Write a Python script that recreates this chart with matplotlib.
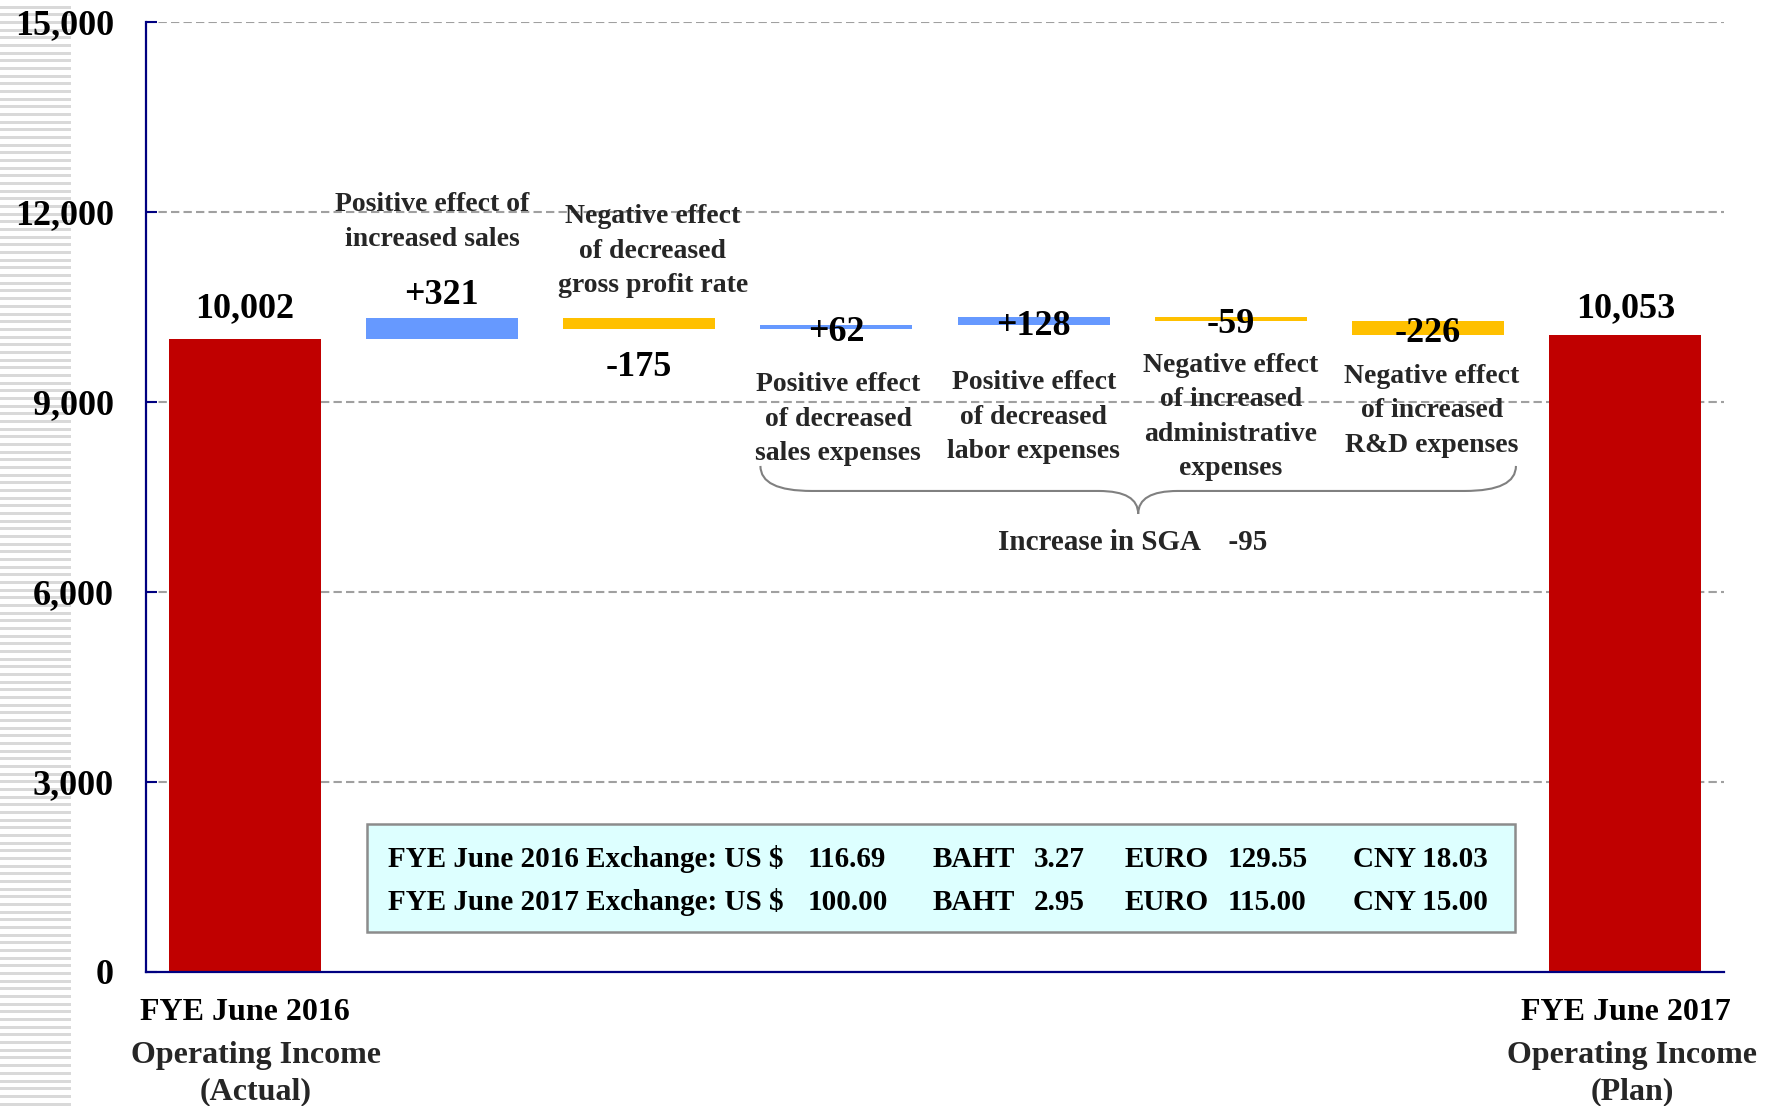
import numpy as np
import matplotlib
matplotlib.use("Agg")
import matplotlib.pyplot as plt
from matplotlib.patches import Rectangle, PathPatch
from matplotlib.path import Path
from matplotlib.ticker import FuncFormatter

plt.rcParams['font.family'] = ['Liberation Serif', 'DejaVu Serif']
plt.rcParams['font.weight'] = 'bold'

# operating income bridge, FYE June 2016 actual -> FYE June 2017 plan
start_title = "FYE June 2016"
start_sub = "Operating Income\n(Actual)"
end_title = "FYE June 2017"
end_sub = "Operating Income\n(Plan)"
start_value = 10002
change_labels = [
    "Positive effect of\nincreased sales",
    "Negative effect\nof decreased\ngross profit rate",
    "Positive effect\nof decreased\nsales expenses",
    "Positive effect\nof decreased\nlabor expenses",
    "Negative effect\nof increased\nadministrative\nexpenses",
    "Negative effect\nof increased\nR&D expenses",
]
changes = [321, -175, 62, 128, -59, -226]
sga_items = [2, 3, 4, 5]   # the four SGA effects

# exchange rates shown in the box
rate_years = ["FYE June 2016", "FYE June 2017"]
usd_rates = ["116.69", "100.00"]
baht_rates = ["3.27", "2.95"]
euro_rates = ["129.55", "115.00"]
cny_rates = ["18.03", "15.00"]

RED = '#C00000'
BLUE = '#6699FF'
YELLOW = '#FFC000'
NAVY = '#000080'
DARK = '#262626'

levels = start_value + np.cumsum([0] + changes)
end_value = levels[-1]
n = len(changes) + 2
x = np.arange(n)

fig = plt.figure(figsize=(17.71, 11.06), dpi=100)
ax = fig.add_axes([0.0824, 0.1212, 0.8911, 0.8589])

# striped band down the left edge
for yp in np.arange(7.2, 1106, 7.67):
    fig.add_artist(Rectangle((0, 1 - (yp + 1.5) / 1106), 71 / 1771, 3 / 1106,
                             transform=fig.transFigure, color='#d9d9d9',
                             lw=0, zorder=-1))

ax.set_xlim(-0.5, n - 0.5)
ax.set_ylim(0, 15000)
ax.set_yticks(np.arange(0, 15001, 3000))
ax.yaxis.set_major_formatter(FuncFormatter(lambda v, p: f"{int(v):,}"))
for yv in np.arange(3000, 15001, 3000):
    ax.axhline(yv, color='#a0a0a0', lw=1.5, ls=(0, (4, 2)), zorder=0)

width = 0.77
ax.bar(0, start_value, width=width, color=RED, zorder=2)
ax.bar(n - 1, end_value, width=width, color=RED, zorder=2)
for i, c in enumerate(changes):
    lo = min(levels[i], levels[i + 1])
    ax.bar(i + 1, abs(c), bottom=lo, width=width,
           color=BLUE if c > 0 else YELLOW, zorder=2)

# value labels
for xi, v, off in [(0, start_value, 21.3), (n - 1, end_value, 19.3)]:
    ax.annotate(f"{v:,}", (xi, v), xytext=(0, off), textcoords='offset points',
                ha='center', va='center', fontsize=26, color='black', zorder=5)

label_pos = ['above', 'below', 'on', 'on', 'on', 'on']
for i, c in enumerate(changes):
    lo = min(levels[i], levels[i + 1])
    hi = max(levels[i], levels[i + 1])
    if label_pos[i] == 'above':
        yv, off = hi, 16.3
    elif label_pos[i] == 'below':
        yv, off = lo, -27.7
    else:
        yv, off = (lo + hi) / 2, -3.7
    ax.annotate(f"{c:+d}", (i + 1, yv), xytext=(0, off), textcoords='offset points',
                ha='center', va='center', fontsize=26, color='black', zorder=5)

# effect descriptions
desc_pos = [(0.95, 11840), (2.07, 11380), (3.01, 8730),
            (4.0, 8760), (5.0, 8765), (6.02, 8860)]
for (dx, dy), txt in zip(desc_pos, change_labels):
    ax.text(dx, dy, txt, ha='center', va='center', fontsize=20,
            color=DARK, linespacing=1.49, zorder=4)

# brace under the SGA items
x0 = sga_items[0] + 1 - width / 2
x1 = sga_items[-1] + 1 + width / 2 + 0.06
xc = (x0 + x1) / 2
yt, yh, yp = 7990, 7595, 7232
a, b = 0.26, 0.2
verts = [(x0, yt), (x0, yh), (x0 + a, yh),
         (xc - b, yh),
         (xc, yh), (xc, yp),
         (xc, yh), (xc + b, yh),
         (x1 - a, yh),
         (x1, yh), (x1, yt)]
codes = [Path.MOVETO, Path.CURVE3, Path.CURVE3,
         Path.LINETO,
         Path.CURVE3, Path.CURVE3,
         Path.CURVE3, Path.CURVE3,
         Path.LINETO,
         Path.CURVE3, Path.CURVE3]
ax.add_patch(PathPatch(Path(verts, codes), fill=False, edgecolor='#808080',
                       lw=1.5, zorder=3))
sga_total = sum(changes[i] for i in sga_items)
ax.text(xc - 0.03, 6785, f"Increase in SGA    {sga_total:d}", ha='center',
        va='center', fontsize=21, color=DARK, zorder=4)

# exchange rate box
ax.add_patch(Rectangle((0.140, 0.0421), 0.7275, 0.1132, transform=ax.transAxes,
                       facecolor='#DDFFFF', edgecolor='#8C8C8C', lw=1.8, zorder=3))
row_y = [0.1186, 0.0734]
for r, yv in enumerate(row_y):
    cells = [(0.1534, f"{rate_years[r]} Exchange: US $"),
             (0.4195, usd_rates[r]),
             (0.4987, "BAHT"),
             (0.5627, baht_rates[r]),
             (0.6204, "EURO"),
             (0.6857, euro_rates[r]),
             (0.7649, f"CNY {cny_rates[r]}")]
    for cx, txt in cells:
        ax.text(cx, yv, txt, transform=ax.transAxes, ha='left', va='center',
                fontsize=21, color='black', zorder=4)

# category labels under the two total bars
for xi, title, sub, shift in [(0, start_title, start_sub, 8),
                              (n - 1, end_title, end_sub, 5)]:
    ax.annotate(title, (xi, 0), xycoords=('data', 'axes fraction'),
                xytext=(0, -29.5), textcoords='offset points', ha='center',
                va='center', fontsize=23, color='black', annotation_clip=False)
    ax.annotate(sub, (xi, 0), xycoords=('data', 'axes fraction'),
                xytext=(shift, -73), textcoords='offset points', ha='center',
                va='center', fontsize=23, color=DARK, linespacing=1.34,
                annotation_clip=False)

# axes styling
ax.set_xticks([])
ax.tick_params(axis='y', direction='in', length=8, width=1.5, color=NAVY,
               labelsize=26, pad=23, labelcolor='black')
for side in ['top', 'right']:
    ax.spines[side].set_visible(False)
for side in ['left', 'bottom']:
    ax.spines[side].set_color(NAVY)
    ax.spines[side].set_linewidth(1.6)

fig.savefig("out.png", dpi=100)
